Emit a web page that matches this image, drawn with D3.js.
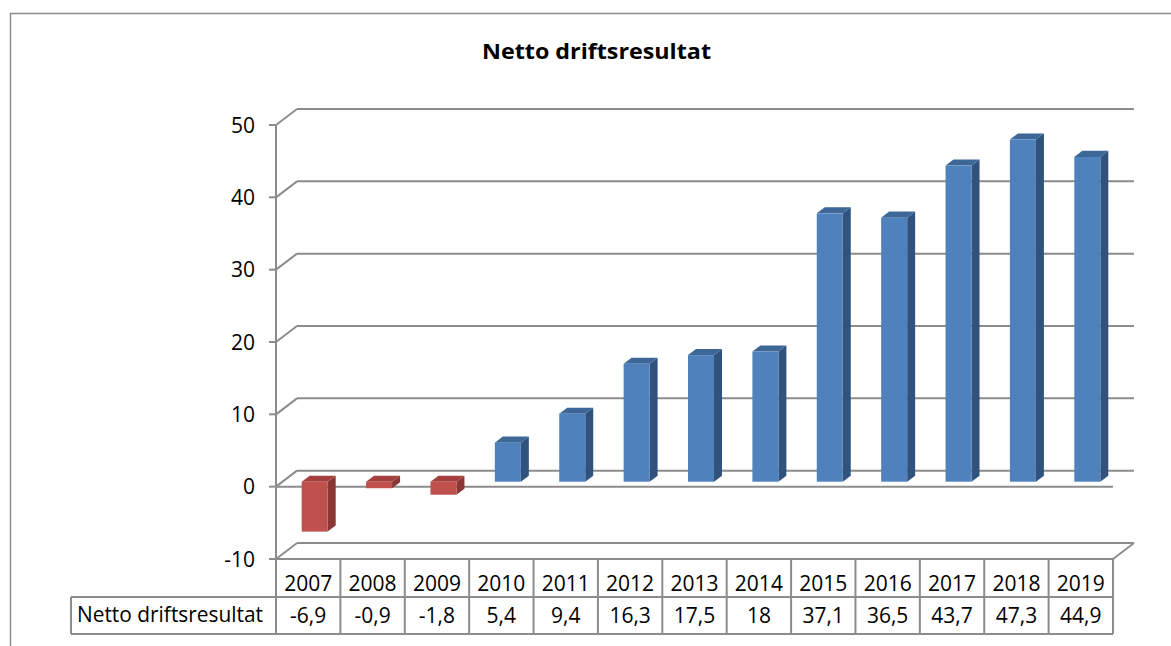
<!DOCTYPE html>
<html><head><meta charset="utf-8">
<script src="https://cdn.jsdelivr.net/npm/d3@7"></script>
<style>html,body{margin:0;padding:0;background:#fff;}svg{display:block;}</style>
</head><body>
<svg id="c" width="1171" height="646"></svg>
<script>
const title = "Netto driftsresultat";
const seriesName = "Netto driftsresultat";
const years = ["2007","2008","2009","2010","2011","2012","2013","2014","2015","2016","2017","2018","2019"];
const values = [-6.9,-0.9,-1.8,5.4,9.4,16.3,17.5,18,37.1,36.5,43.7,47.3,44.9];
const valueLabels = ["-6,9","-0,9","-1,8","5,4","9,4","16,3","17,5","18","37,1","36,5","43,7","47,3","44,9"];
const yTicks = [-10,0,10,20,30,40,50];

const svg = d3.select("#c");
const font = "'Open Sans', Lato, sans-serif";
const gridColor = "#8c8c8c";
const DX = 21, DY = 16;
const left = 276, right = 1113;
const y = d3.scaleLinear().domain([-10,50]).range([559,125]);
const x = d3.scaleBand().domain(years).range([left,right]).paddingInner(0).paddingOuter(0);

// outer border
svg.append("path").attr("d","M10.5,646 L10.5,13.5 L1171,13.5").attr("fill","none").attr("stroke","#8c8c8c").attr("stroke-width",1.5);

// title
svg.append("text").attr("x",482).attr("y",59)
  .attr("font-family",font).attr("font-weight","bold").attr("font-size",21).attr("fill","#000")
  .attr("textLength",229).attr("lengthAdjust","spacingAndGlyphs").text(title);

const g = svg.append("g");
yTicks.forEach(v=>{
  const yy = y(v);
  g.append("line").attr("x1",left+DX).attr("x2",right+DX).attr("y1",yy-DY).attr("y2",yy-DY)
    .attr("stroke",gridColor).attr("stroke-width",2);
  g.append("line").attr("x1",left).attr("x2",left+DX).attr("y1",yy).attr("y2",yy-DY)
    .attr("stroke",gridColor).attr("stroke-width",2);
});
g.append("line").attr("x1",left).attr("x2",right).attr("y1",y(0)).attr("y2",y(0)).attr("stroke",gridColor).attr("stroke-width",2);
g.append("line").attr("x1",right).attr("x2",right+DX).attr("y1",y(-10)).attr("y2",y(-10)-DY).attr("stroke",gridColor).attr("stroke-width",2);

// bars
const d0 = 0.31, d1 = 0.69;
const bw = x.bandwidth()*0.404;
values.forEach((v,i)=>{
  const neg = v < 0;
  const cFront = neg ? "#C0504D" : "#4F81BD";
  const cTop = neg ? "#A5403E" : "#3C6797";
  const cSide = neg ? "#8A3735" : "#30527D";
  const xc = x(years[i]) + x.bandwidth()/2;
  const fx0 = xc - bw/2 + DX*d0, fx1 = xc + bw/2 + DX*d0;
  const ox = DX*(d1-d0), oy = DY*(d1-d0);
  const yTop = y(Math.max(v,0)) - DY*d0, yBot = y(Math.min(v,0)) - DY*d0;
  g.append("path").attr("d",`M${fx1},${yTop} L${fx1+ox},${yTop-oy} L${fx1+ox},${yBot-oy} L${fx1},${yBot} Z`).attr("fill",cSide);
  g.append("path").attr("d",`M${fx0},${yTop} L${fx0+ox},${yTop-oy} L${fx1+ox},${yTop-oy} L${fx1},${yTop} Z`).attr("fill",cTop);
  g.append("rect").attr("x",fx0).attr("y",yTop).attr("width",fx1-fx0).attr("height",Math.max(yBot-yTop,0.5)).attr("fill",cFront);
});

// y axis
g.append("line").attr("x1",left).attr("x2",left).attr("y1",y(50)).attr("y2",y(-10)).attr("stroke",gridColor).attr("stroke-width",2);
yTicks.forEach(v=>{
  g.append("line").attr("x1",left-7).attr("x2",left).attr("y1",y(v)).attr("y2",y(v)).attr("stroke",gridColor).attr("stroke-width",2);
  g.append("text").attr("x",255).attr("y",y(v)+7.5).attr("text-anchor","end")
    .attr("font-family",font).attr("font-size",21).attr("fill","#000").text(v);
});

// data table
const rowTop = 559, rowMid = 597, rowBot = 634, labelLeft = 71;
const tg = svg.append("g").attr("stroke",gridColor).attr("stroke-width",2).attr("fill","none");
tg.append("line").attr("x1",left).attr("x2",right).attr("y1",rowTop).attr("y2",rowTop);
tg.append("line").attr("x1",labelLeft).attr("x2",right).attr("y1",rowMid).attr("y2",rowMid);
tg.append("line").attr("x1",labelLeft).attr("x2",right).attr("y1",rowBot).attr("y2",rowBot);
tg.append("line").attr("x1",labelLeft).attr("x2",labelLeft).attr("y1",rowMid).attr("y2",rowBot);
years.forEach(yr=>{
  tg.append("line").attr("x1",x(yr)).attr("x2",x(yr)).attr("y1",rowTop).attr("y2",rowBot);
});
tg.append("line").attr("x1",right).attr("x2",right).attr("y1",rowTop).attr("y2",rowBot);

years.forEach((yr,i)=>{
  const cx = x(yr)+x.bandwidth()/2;
  svg.append("text").attr("x",cx).attr("y",590.5).attr("text-anchor","middle")
    .attr("font-family",font).attr("font-size",21).attr("fill","#000").text(yr);
  svg.append("text").attr("x",cx).attr("y",622.5).attr("text-anchor","middle")
    .attr("font-family",font).attr("font-size",21).attr("fill","#000").text(valueLabels[i]);
});
svg.append("text").attr("x",77).attr("y",622).attr("font-family",font).attr("font-size",21).attr("fill","#000")
  .attr("textLength",186).attr("lengthAdjust","spacingAndGlyphs").text(seriesName);
</script>
</body></html>
